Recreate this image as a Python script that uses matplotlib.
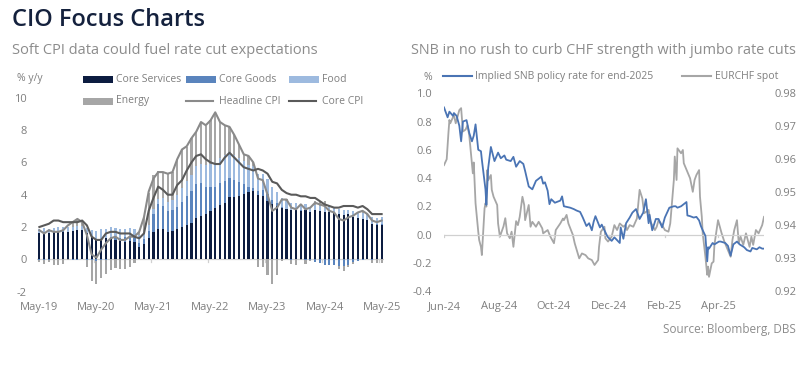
import matplotlib
matplotlib.use("Agg")
import matplotlib.pyplot as plt
import numpy as np
import pandas as pd
from matplotlib.patches import Rectangle

plt.rcParams['font.family'] = ['Open Sans', 'DejaVu Sans']

# ---------------- Left chart data (monthly, May-19 .. May-25) ----------------
months = pd.date_range("2019-05-01", "2025-05-01", freq="MS").strftime("%b-%y").tolist()
core_services = [1.60, 1.65, 1.62, 1.68, 1.72, 1.70, 1.70, 1.75, 1.80, 1.80, 1.65, 1.35,
                 1.22, 1.22, 1.32, 1.32, 1.22, 1.12, 1.10, 1.16, 1.05, 0.78, 0.95, 1.30,
                 1.70, 1.90, 1.85, 1.70, 1.75, 1.85, 1.97, 2.15, 2.25, 2.55, 2.70, 2.80,
                 3.00, 3.15, 3.35, 3.50, 3.85, 3.88, 3.92, 4.05, 4.15, 4.20, 4.00, 3.95,
                 3.60, 3.45, 3.30, 3.20, 3.10, 3.05, 3.05, 3.00, 3.05, 2.95, 3.05, 3.00,
                 2.95, 2.90, 2.85, 2.82, 2.75, 2.78, 2.65, 2.55, 2.50, 2.45, 2.20, 2.15, 2.15]
core_goods = [-0.05, -0.06, -0.02, 0.02, 0.02, 0.03, 0.02, -0.02, -0.02, 0.00, -0.02, -0.07,
              -0.10, -0.07, -0.03, 0.08, 0.14, 0.22, 0.26, 0.25, 0.30, 0.24, 0.30, 0.48,
              1.10, 1.50, 1.45, 1.30, 1.30, 1.40, 1.60, 1.80, 2.00, 2.10, 2.00, 1.70,
              1.50, 1.35, 1.40, 1.35, 1.20, 1.05, 0.85, 0.60, 0.30, 0.22, 0.20, 0.35,
              0.45, 0.25, 0.18, 0.02, 0.00, -0.02, 0.00, 0.04, -0.05, -0.06, -0.14, -0.24,
              -0.33, -0.38, -0.38, -0.42, -0.40, -0.33, -0.14, -0.10, -0.03, -0.01, -0.02, 0.02, 0.06]
food = [0.28, 0.27, 0.25, 0.24, 0.25, 0.29, 0.28, 0.25, 0.25, 0.25, 0.27, 0.49,
        0.56, 0.63, 0.57, 0.57, 0.55, 0.55, 0.52, 0.55, 0.53, 0.50, 0.49, 0.34,
        0.31, 0.34, 0.48, 0.52, 0.64, 0.74, 0.85, 0.88, 0.98, 1.10, 1.23, 1.32,
        1.41, 1.46, 1.53, 1.60, 1.57, 1.53, 1.48, 1.46, 1.41, 1.33, 1.10, 1.00,
        0.94, 0.80, 0.69, 0.60, 0.52, 0.46, 0.41, 0.38, 0.36, 0.31, 0.31, 0.31,
        0.29, 0.31, 0.31, 0.29, 0.32, 0.29, 0.34, 0.35, 0.35, 0.36, 0.42, 0.39, 0.41]
energy = [-0.10, -0.26, -0.15, -0.33, -0.36, -0.30, -0.05, 0.25, 0.45, 0.20, -0.45, -1.25,
          -1.45, -1.10, -0.85, -0.65, -0.55, -0.60, -0.60, -0.45, -0.25, 0.15, 0.90, 2.00,
          2.10, 1.70, 1.60, 1.80, 1.70, 2.20, 2.40, 2.15, 2.25, 2.15, 2.55, 2.45,
          2.70, 3.10, 2.20, 1.85, 1.55, 1.25, 0.85, 0.40, 0.55, 0.25, -0.50, -0.50,
          -1.00, -1.55, -1.00, -0.12, 0.10, -0.30, -0.35, -0.05, -0.25, -0.02, 0.25, 0.30,
          0.35, 0.10, 0.10, -0.20, -0.30, -0.15, -0.15, 0.05, 0.15, 0.00, -0.20, -0.25, -0.22]
headline_cpi = [1.8, 1.6, 1.8, 1.7, 1.7, 1.8, 2.1, 2.3, 2.5, 2.3, 1.5, 0.3,
                0.1, 0.6, 1.0, 1.3, 1.4, 1.2, 1.2, 1.4, 1.4, 1.7, 2.6, 4.2,
                5.0, 5.4, 5.4, 5.3, 5.4, 6.2, 6.8, 7.0, 7.5, 7.9, 8.5, 8.3,
                8.6, 9.1, 8.5, 8.3, 8.2, 7.7, 7.1, 6.5, 6.4, 6.0, 5.0, 4.9,
                4.0, 3.0, 3.2, 3.7, 3.7, 3.2, 3.1, 3.4, 3.1, 3.2, 3.5, 3.4,
                3.3, 3.0, 2.9, 2.5, 2.4, 2.6, 2.7, 2.9, 3.0, 2.8, 2.4, 2.3, 2.4]
core_cpi = [2.0, 2.1, 2.2, 2.4, 2.4, 2.3, 2.3, 2.3, 2.3, 2.4, 2.1, 1.4,
            1.2, 1.2, 1.6, 1.7, 1.7, 1.6, 1.6, 1.6, 1.4, 1.3, 1.6, 3.0,
            3.8, 4.5, 4.3, 4.0, 4.0, 4.6, 4.9, 5.5, 6.0, 6.4, 6.5, 6.2,
            6.0, 5.9, 5.9, 6.3, 6.6, 6.3, 6.0, 5.7, 5.6, 5.5, 5.6, 5.5,
            5.3, 4.8, 4.7, 4.3, 4.1, 4.0, 4.0, 3.9, 3.9, 3.8, 3.8, 3.6,
            3.4, 3.3, 3.2, 3.2, 3.3, 3.3, 3.3, 3.2, 3.3, 3.1, 2.8, 2.8, 2.8]
left_xtick_labels = ["May-19", "May-20", "May-21", "May-22", "May-23", "May-24", "May-25"]

# ---------------- Right chart data ----------------
snb_dates = ["2024-06-21", "2024-06-25", "2024-06-27", "2024-07-01", "2024-07-02", "2024-07-05",
             "2024-07-08", "2024-07-10", "2024-07-12", "2024-07-16", "2024-07-19", "2024-07-22",
             "2024-07-24", "2024-07-26", "2024-07-29", "2024-08-01", "2024-08-02", "2024-08-06",
             "2024-08-07", "2024-08-09", "2024-08-12", "2024-08-14", "2024-08-16", "2024-08-20",
             "2024-08-23", "2024-08-27", "2024-08-29", "2024-09-03", "2024-09-06", "2024-09-09",
             "2024-09-13", "2024-09-17", "2024-09-19", "2024-09-23", "2024-09-27", "2024-10-01",
             "2024-10-07", "2024-10-09", "2024-10-11", "2024-10-14", "2024-10-16", "2024-10-18",
             "2024-10-22", "2024-10-28", "2024-10-30", "2024-11-01", "2024-11-08", "2024-11-12",
             "2024-11-15", "2024-11-19", "2024-11-22", "2024-11-26", "2024-11-29", "2024-12-02",
             "2024-12-04", "2024-12-06", "2024-12-11", "2024-12-13", "2024-12-19", "2024-12-20",
             "2024-12-24", "2024-12-27", "2025-01-02", "2025-01-03", "2025-01-06", "2025-01-09",
             "2025-01-13", "2025-01-16", "2025-01-20", "2025-01-24", "2025-01-28", "2025-01-31",
             "2025-02-03", "2025-02-04", "2025-02-07", "2025-02-11", "2025-02-14", "2025-02-18",
             "2025-02-21", "2025-02-26", "2025-03-03", "2025-03-05", "2025-03-07", "2025-03-11",
             "2025-03-13", "2025-03-17", "2025-03-18", "2025-03-21", "2025-03-25", "2025-03-28",
             "2025-03-31", "2025-04-02", "2025-04-04", "2025-04-07", "2025-04-09", "2025-04-10",
             "2025-04-11", "2025-04-15", "2025-04-17", "2025-04-22", "2025-04-24", "2025-04-29",
             "2025-05-02", "2025-05-05", "2025-05-08", "2025-05-12", "2025-05-15", "2025-05-20",
             "2025-05-23", "2025-05-27", "2025-05-29", "2025-06-03", "2025-06-06", "2025-06-09",
             "2025-06-11"]
snb_rate = [0.90, 0.83, 0.87, 0.84, 0.86, 0.84,
            0.77, 0.66, 0.80, 0.81, 0.72, 0.66,
            0.70, 0.78, 0.60, 0.59, 0.53, 0.32,
            0.21, 0.47, 0.62, 0.57, 0.52, 0.58,
            0.54, 0.56, 0.53, 0.52, 0.55, 0.48,
            0.52, 0.50, 0.45, 0.34, 0.32, 0.38,
            0.41, 0.36, 0.37, 0.31, 0.215, 0.25,
            0.225, 0.24, 0.27, 0.20, 0.19, 0.18,
            0.17, 0.16, 0.12, 0.06, 0.08, 0.03,
            0.09, 0.13, 0.05, 0.07, -0.01, -0.02,
            -0.045, -0.02, -0.06, 0.05, -0.03, 0.08,
            0.12, 0.155, 0.18, 0.11, 0.155, 0.25,
            0.08, 0.14, 0.03, 0.11, 0.11, 0.05,
            0.12, 0.19, 0.20, 0.20, 0.19, 0.20,
            0.21, 0.23, 0.135, 0.13, 0.12, 0.125,
            0.10, 0.06, 0.03, -0.01, -0.19, -0.09,
            -0.10, -0.06, -0.07, -0.05, -0.05, -0.06,
            -0.08, -0.15, -0.07, -0.05, -0.07, -0.09,
            -0.11, -0.12, -0.095, -0.105, -0.09, -0.10,
            -0.10]
eur_dates = ["2024-06-21", "2024-06-24", "2024-06-26", "2024-06-27", "2024-06-28", "2024-07-02",
             "2024-07-04", "2024-07-08", "2024-07-10", "2024-07-12", "2024-07-15", "2024-07-17",
             "2024-07-19", "2024-07-22", "2024-07-23", "2024-07-24", "2024-07-26", "2024-07-29",
             "2024-07-30", "2024-08-01", "2024-08-02", "2024-08-05", "2024-08-06", "2024-08-07",
             "2024-08-08", "2024-08-09", "2024-08-12", "2024-08-13", "2024-08-15", "2024-08-19",
             "2024-08-20", "2024-08-22", "2024-08-26", "2024-08-28", "2024-08-30", "2024-09-02",
             "2024-09-04", "2024-09-06", "2024-09-09", "2024-09-11", "2024-09-13", "2024-09-16",
             "2024-09-18", "2024-09-19", "2024-09-23", "2024-09-25", "2024-09-27", "2024-10-01",
             "2024-10-04", "2024-10-08", "2024-10-09", "2024-10-14", "2024-10-17", "2024-10-21",
             "2024-10-23", "2024-10-28", "2024-10-31", "2024-11-01", "2024-11-04", "2024-11-06",
             "2024-11-11", "2024-11-13", "2024-11-18", "2024-11-21", "2024-11-25", "2024-11-28",
             "2024-12-02", "2024-12-05", "2024-12-09", "2024-12-10", "2024-12-12", "2024-12-16",
             "2024-12-17", "2024-12-20", "2024-12-24", "2024-12-27", "2024-12-30", "2025-01-02",
             "2025-01-06", "2025-01-08", "2025-01-10", "2025-01-13", "2025-01-17", "2025-01-21",
             "2025-01-24", "2025-01-27", "2025-01-29", "2025-02-03", "2025-02-05", "2025-02-10",
             "2025-02-12", "2025-02-14", "2025-02-18", "2025-02-21", "2025-02-25", "2025-02-27",
             "2025-03-03", "2025-03-04", "2025-03-06", "2025-03-07", "2025-03-11", "2025-03-13",
             "2025-03-14", "2025-03-18", "2025-03-21", "2025-03-24", "2025-03-26", "2025-03-28",
             "2025-03-31", "2025-04-01", "2025-04-03", "2025-04-04", "2025-04-07", "2025-04-09",
             "2025-04-10", "2025-04-11", "2025-04-14", "2025-04-16", "2025-04-17", "2025-04-21",
             "2025-04-23", "2025-04-25", "2025-04-28", "2025-05-01", "2025-05-05", "2025-05-07",
             "2025-05-09", "2025-05-12", "2025-05-14", "2025-05-16", "2025-05-19", "2025-05-22",
             "2025-05-26", "2025-05-28", "2025-05-30", "2025-06-02", "2025-06-05", "2025-06-09",
             "2025-06-11"]
eurchf = [0.9582, 0.9600, 0.9683, 0.9719, 0.9709, 0.9734,
          0.9709, 0.9749, 0.9755, 0.9684, 0.9690, 0.9703,
          0.9673, 0.9588, 0.9557, 0.9590, 0.9466, 0.9380,
          0.9355, 0.9334, 0.9309, 0.9451, 0.9466, 0.9456,
          0.9567, 0.9536, 0.9552, 0.9507, 0.9486, 0.9461,
          0.9405, 0.9365, 0.9396, 0.9421, 0.9375, 0.9360,
          0.9380, 0.9334, 0.9412, 0.9400, 0.9425, 0.9486,
          0.9461, 0.9415, 0.9461, 0.9395, 0.9410, 0.9395,
          0.9410, 0.9390, 0.9375, 0.9385, 0.9365, 0.9345,
          0.9385, 0.9405, 0.9420, 0.9415, 0.9431, 0.9405,
          0.9370, 0.9345, 0.9299, 0.9314, 0.9309, 0.9299,
          0.9294, 0.9279, 0.9294, 0.9334, 0.9380, 0.9395,
          0.9360, 0.9350, 0.9365, 0.9400, 0.9385, 0.9405,
          0.9395, 0.9400, 0.9385, 0.9400, 0.9395, 0.9420,
          0.9507, 0.9481, 0.9436, 0.9446, 0.9410, 0.9385,
          0.9395, 0.9415, 0.9400, 0.9385, 0.9380, 0.9405,
          0.9537, 0.9608, 0.9537, 0.9633, 0.9618, 0.9628,
          0.9588, 0.9562, 0.9542, 0.9501, 0.9537, 0.9552,
          0.9567, 0.9486, 0.9425, 0.9375, 0.9304, 0.9249,
          0.9274, 0.9243, 0.9284, 0.9289, 0.9340, 0.9415,
          0.9395, 0.9375, 0.9350, 0.9330, 0.9304, 0.9355,
          0.9385, 0.9415, 0.9345, 0.9365, 0.9340, 0.9375,
          0.9334, 0.9365, 0.9340, 0.9385, 0.9375, 0.9400,
          0.9425]
right_tick_dates = ["2024-06-21", "2024-08-21", "2024-10-21", "2024-12-21", "2025-02-21", "2025-04-21"]
right_tick_labels = ["Jun-24", "Aug-24", "Oct-24", "Dec-24", "Feb-25", "Apr-25"]

# ---------------- Styling ----------------
W, H = 808, 369
fig = plt.figure(figsize=(W / 100, H / 100), dpi=100)
fig.patch.set_facecolor("white")

def px_axes(l, t, r, b):
    return fig.add_axes([l / W, 1 - b / H, (r - l) / W, (b - t) / H])

C_SERV = "#0c1c40"
C_GOOD = "#5a84bd"
C_FOOD = "#9dbadf"
C_ENER = "#a6a6a6"
C_HEAD = "#8a8a8a"
C_CORE = "#5a5a5a"
C_SNB = "#4a74b4"
C_EUR = "#a6a6a6"
TXT = "#7f7f7f"
TICKFS = 8

# ---- left chart ----
ax = px_axes(37, 97.8, 384, 291.6)
x = np.arange(len(months))
series = [(core_services, C_SERV), (core_goods, C_GOOD), (food, C_FOOD), (energy, C_ENER)]
pos_base = np.zeros(len(x))
neg_base = np.zeros(len(x))
bw = 0.45
for vals, col in series:
    v = np.array(vals)
    pv = np.where(v > 0, v, 0)
    nv = np.where(v < 0, v, 0)
    ax.bar(x, pv, bw, bottom=pos_base, color=col, linewidth=0, zorder=2)
    ax.bar(x, nv, bw, bottom=neg_base, color=col, linewidth=0, zorder=2)
    pos_base += pv
    neg_base += nv
ax.plot(x, headline_cpi, color=C_HEAD, lw=1.5, zorder=4)
ax.plot(x, core_cpi, color=C_CORE, lw=1.5, zorder=4)
ax.axhline(0, color="#d0d0d0", lw=0.9, zorder=1)
ax.set_xlim(-0.5, len(x) - 0.5)
ax.set_ylim(-2, 10)
ax.set_yticks(np.arange(-2, 11, 2))
ax.set_yticklabels([str(v) for v in range(-2, 11, 2)])
ax.set_xticks(np.arange(0, len(x), 12))
ax.set_xticklabels(left_xtick_labels)
ax.tick_params(axis="both", length=0, labelsize=TICKFS, labelcolor=TXT)
ax.tick_params(axis="x", pad=7.5)
ax.tick_params(axis="y", pad=7.2)
for s in ax.spines.values():
    s.set_visible(False)
for b in np.arange(11.5, len(x) - 1, 12):
    ax.plot([b, b], [0, -0.18], color="#d0d0d0", lw=0.9, zorder=1)
ax.patch.set_alpha(0)

# ---- right chart ----
axr = px_axes(444, 93.3, 764, 291)
axr2 = axr.twinx()
sd = pd.to_datetime(snb_dates)
ed = pd.to_datetime(eur_dates)
axr2.plot(ed, eurchf, color=C_EUR, lw=1.3, zorder=2)
axr.plot(sd, snb_rate, color=C_SNB, lw=1.3, zorder=3)
axr.set_zorder(axr2.get_zorder() + 1)
axr.patch.set_visible(False)
axr.axhline(0, color="#d0d0d0", lw=0.9, zorder=1)
axr.set_ylim(-0.4, 1.0)
axr2.set_ylim(0.92, 0.98)
lt = np.round(np.arange(-0.4, 1.01, 0.2), 1)
axr.set_yticks(lt)
axr.set_yticklabels([f"{v:.1f}" for v in lt])
rt = np.round(np.arange(0.92, 0.981, 0.01), 2)
axr2.set_yticks(rt)
axr2.set_yticklabels([f"{v:.2f}" for v in rt])
tds = pd.to_datetime(right_tick_dates)
axr.set_xlim(sd[0], sd[-1])
axr.set_xticks(tds)
axr.set_xticklabels(right_tick_labels)
for a in (axr, axr2):
    a.tick_params(axis="both", length=0, labelsize=TICKFS, labelcolor=TXT)
    for s in a.spines.values():
        s.set_visible(False)
axr.tick_params(axis="x", pad=7.5)
axr.tick_params(axis="y", pad=8.6)
axr2.tick_params(axis="y", pad=7.9)
for t in tds:
    axr.plot([t, t], [0, -0.02], color="#d0d0d0", lw=0.9, zorder=1)

# ---- overlay for titles / legends ----
ov = fig.add_axes([0, 0, 1, 1], zorder=10)
ov.set_xlim(0, W)
ov.set_ylim(H, 0)
ov.axis("off")
ov.patch.set_alpha(0)

ov.text(12, 20, "CIO Focus Charts", fontsize=17, fontweight="semibold", color="#14213d",
        va="center", ha="left")
ov.text(12, 50, "Soft CPI data could fuel rate cut expectations", fontsize=10.5, color="#8c8c8c",
        va="center", ha="left")
ov.text(796, 50, "SNB in no rush to curb CHF strength with jumbo rate cuts", fontsize=10.4,
        color="#8c8c8c", va="center", ha="right")

LFS = 7.5
ov.text(17, 79, "% y/y", fontsize=LFS, color=TXT, va="center", ha="left")
leg_items = [
    ("patch", C_SERV, "Core Services", 83, 79),
    ("patch", C_GOOD, "Core Goods", 186, 79),
    ("patch", C_FOOD, "Food", 289, 79),
    ("patch", C_ENER, "Energy", 83, 101),
    ("line", C_HEAD, "Headline CPI", 186, 101),
    ("line", C_CORE, "Core CPI", 289, 101),
]
for kind, col, lab, lx, ly in leg_items:
    if kind == "patch":
        ov.add_patch(Rectangle((lx, ly - 3.5), 30, 7, color=col, lw=0))
    else:
        ov.plot([lx, lx + 27], [ly, ly], color=col, lw=1.5)
    ov.text(lx + 33, ly, lab, fontsize=LFS, color=TXT, va="center", ha="left")

ov.text(428, 78, "%", fontsize=LFS, color=TXT, va="center", ha="center")
ov.plot([443, 472], [76, 76], color=C_SNB, lw=1.5)
ov.text(475, 76, "Implied SNB policy rate for end-2025", fontsize=LFS, color=TXT,
        va="center", ha="left")
ov.plot([682, 711], [76, 76], color=C_EUR, lw=1.5)
ov.text(715, 76, "EURCHF spot", fontsize=LFS, color=TXT, va="center", ha="left")

ov.text(796, 330, "Source: Bloomberg, DBS", fontsize=8.5, color="#8c8c8c", va="center", ha="right")

fig.savefig("out.png", dpi=100, facecolor="white")
